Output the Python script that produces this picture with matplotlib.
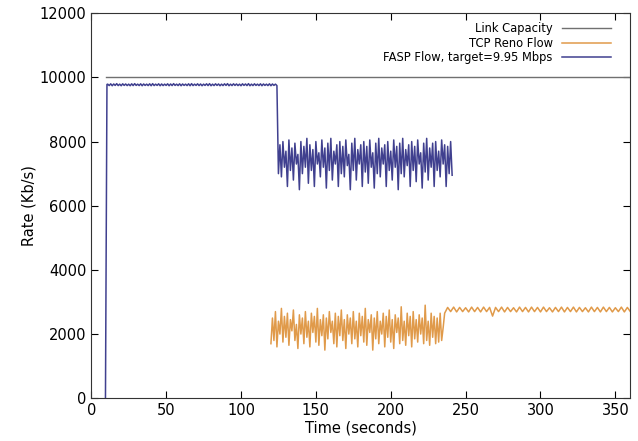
import numpy as np
from matplotlib import pyplot as plt

# link capacity (Kb/s)
link_t = [10, 360]
link_rate = [10000, 10000]

# FASP flow: ramp-up, plateau (1 s samples, t=11..124), oscillation (t=125..241)
fasp_ramp_t = [9.5, 10.5]
fasp_ramp = [0, 9780]
fasp_plateau = [
	9790, 9745, 9800, 9740, 9795, 9750, 9805, 9745, 9790, 9740,
	9800, 9750, 9795, 9745, 9790, 9740, 9800, 9745, 9805, 9750,
	9790, 9745, 9800, 9740, 9795, 9750, 9790, 9745, 9800, 9740,
	9805, 9745, 9790, 9750, 9800, 9740, 9795, 9745, 9790, 9750,
	9800, 9740, 9795, 9745, 9805, 9750, 9790, 9745, 9800, 9740,
	9795, 9750, 9790, 9745, 9800, 9740, 9805, 9745, 9790, 9750,
	9800, 9745, 9795, 9740, 9790, 9750, 9800, 9745, 9805, 9740,
	9790, 9745, 9800, 9750, 9795, 9740, 9790, 9745, 9800, 9750,
	9805, 9740, 9790, 9745, 9800, 9750, 9795, 9745, 9790, 9740,
	9800, 9750, 9795, 9745, 9805, 9740, 9790, 9745, 9800, 9750,
	9790, 9745, 9800, 9740, 9795, 9750, 9790, 9745, 9800, 9740,
	9795, 9750, 9790, 9745,
]
fasp_osc = [
	7000, 7900, 6900, 8000, 7200, 7700, 6600, 8050, 7100, 7800,
	6800, 7950, 7300, 7600, 6500, 8000, 7000, 7850, 7200, 8100,
	6700, 7900, 7100, 7750, 6600, 8000, 7300, 7650, 6900, 8050,
	7200, 7800, 6550, 7950, 7100, 8100, 6800, 7700, 7300, 7900,
	6600, 8000, 7000, 7850, 6900, 8050, 7250, 7600, 6500, 7950,
	7100, 8100, 6800, 7750, 7300, 7900, 6600, 8000, 7050, 7850,
	6700, 8050, 7200, 7650, 6550, 7950, 7000, 8100, 6900, 7800,
	7300, 7900, 6600, 8000, 7100, 7700, 6800, 8050, 7200, 7850,
	6500, 7950, 7000, 8100, 6900, 7750, 7250, 7900, 6600, 8000,
	7100, 7850, 6750, 8050, 7300, 7650, 6550, 7950, 7050, 8100,
	6800, 7800, 7200, 7950, 6600, 8000, 7100, 7700, 6900, 8050,
	7300, 7900, 6600, 7850, 7000, 8000, 6950,
]

# TCP Reno flow: oscillation (1 s samples, t=120..235), steady (2 s samples, t=236..360)
tcp_osc = [
	1700, 2500, 1800, 2700, 1600, 2400, 2000, 2800, 1750, 2550,
	1900, 2650, 1650, 2450, 2100, 2750, 1800, 2300, 1550, 2600,
	2000, 2500, 1700, 2700, 1900, 2400, 1600, 2650, 2050, 2550,
	1750, 2800, 1650, 2450, 1950, 2600, 1500, 2500, 1850, 2700,
	2050, 2400, 1700, 2650, 1600, 2550, 1950, 2750, 1800, 2450,
	1550, 2600, 2000, 2500, 1700, 2700, 1850, 2400, 1600, 2650,
	1950, 2550, 1750, 2800, 1650, 2450, 2050, 2600, 1500, 2500,
	1850, 2700, 1700, 2400, 2000, 2650, 1600, 2550, 1900, 2750,
	1750, 2450, 1550, 2600, 2050, 2500, 1700, 2850, 1800, 2400,
	1650, 2650, 1950, 2550, 1600, 2700, 1850, 2450, 1750, 2600,
	2000, 2500, 1700, 2900, 1800, 2400, 1650, 2650, 1900, 2550,
	1700, 2500, 1750, 2650, 1800, 2200,
]
tcp_steady = [
	2650, 2830, 2700, 2840, 2690, 2830, 2700, 2820, 2690, 2840,
	2700, 2830, 2690, 2840, 2700, 2830, 2560, 2830, 2700, 2840,
	2690, 2830, 2700, 2820, 2690, 2840, 2700, 2830, 2690, 2840,
	2700, 2830, 2690, 2840, 2700, 2820, 2690, 2830, 2700, 2840,
	2690, 2830, 2700, 2840, 2690, 2830, 2700, 2820, 2690, 2840,
	2700, 2830, 2690, 2840, 2700, 2830, 2690, 2820, 2700, 2840,
	2690, 2830, 2700,
]

fasp_t = fasp_ramp_t + list(range(11, 125)) + list(range(125, 242))
fasp_rate = fasp_ramp + fasp_plateau + fasp_osc
tcp_t = list(range(120, 236)) + list(range(236, 361, 2))
tcp_rate = tcp_osc + tcp_steady

fig = plt.figure(figsize=(6.38, 4.41), dpi=100)
ax = fig.add_axes([0.143, 0.097, 0.845, 0.873])

ax.plot(link_t, link_rate, color='#707070', lw=1.0, label="Link Capacity")
ax.plot(tcp_t, tcp_rate, color='#e09a4a', lw=1.1, label="TCP Reno Flow")
ax.plot(fasp_t, fasp_rate, color='#40408f', lw=1.1, label="FASP Flow, target=9.95 Mbps")

ax.set_xlim(0, 360)
ax.set_ylim(0, 12000)
ax.set_xticks(range(0, 351, 50))
ax.set_yticks(range(0, 12001, 2000))
ax.tick_params(direction='in', length=5, top=True, right=True, labelsize=10.5)
for s in ax.spines.values():
	s.set_color('#333333')

ax.set_xlabel("Time (seconds)", fontsize=10.5, labelpad=2)
ax.set_ylabel("Rate (Kb/s)", fontsize=10.5, labelpad=2)

ax.legend(loc='upper right', bbox_to_anchor=(0.982, 1.0), frameon=False,
	markerfirst=False, fontsize=8.3, handlelength=4.3, labelspacing=0.1,
	borderaxespad=0.4)

fig.savefig("out.png", dpi=100)
